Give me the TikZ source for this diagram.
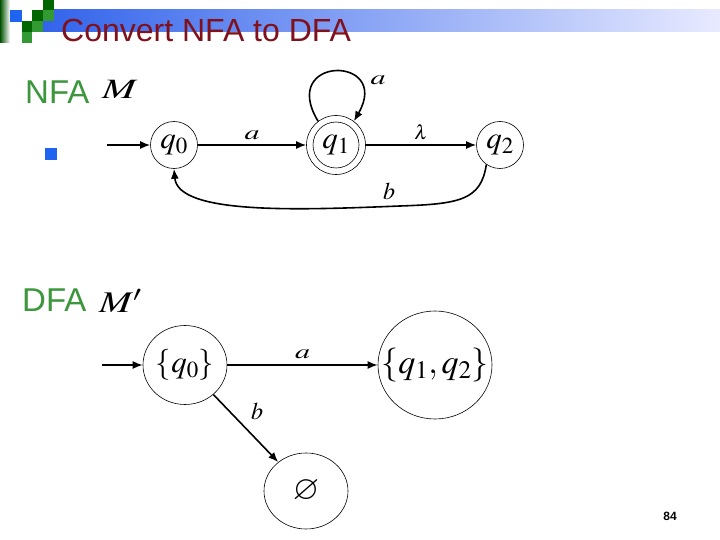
\documentclass[tikz,border=0pt]{standalone}
\usepackage{mathptmx}
\usepackage{amssymb}
\usepackage{fontspec}
\setmainfont{Liberation Sans}
\usetikzlibrary{arrows.meta,shapes.geometric}
\definecolor{titlered}{RGB}{128,16,26}
\definecolor{lblgreen}{RGB}{60,150,60}
\definecolor{dkgreen}{RGB}{0,102,0}
\definecolor{mdgreen}{RGB}{51,153,51}
\definecolor{bulblue}{RGB}{30,100,240}
\definecolor{barblue}{RGB}{50,100,235}
\definecolor{barlight}{RGB}{232,234,255}
\newcommand{\wa}{\scalebox{1.5}[1]{$a$}}
\begin{document}
\begin{tikzpicture}[x=1pt,y=-1pt,
  edge/.style={line width=1.6pt,-{Latex[length=10pt,width=8pt]}},
  st/.style={circle,draw,line width=0.6pt,inner sep=0pt,minimum size=47pt,font=\fontsize{31}{36}\selectfont},
  dst/.style={ellipse,draw,line width=0.6pt,inner sep=0pt,font=\fontsize{31}{36}\selectfont},
  lbl/.style={inner sep=1pt,font=\fontsize{20}{24}\selectfont},
  side/.style={anchor=base west,text=lblgreen,font=\fontsize{33}{38}\selectfont},
  mname/.style={anchor=base west,font=\fontsize{28}{32}\selectfont},
]
\useasboundingbox (0,0) rectangle (720,540);
% header
\shade[left color=barblue,right color=barlight] (43,10) rectangle (720,32);
\shade[left color=dkgreen!80!black,right color=white] (0,0) rectangle (10,43);
\fill[bulblue] (10,10) rectangle (22,22);
\fill[dkgreen] (43,0) rectangle (54,10);
\fill[mdgreen] (43,10) rectangle (54,21);
\fill[dkgreen] (32,10) rectangle (43,21);
\fill[dkgreen] (22,21) rectangle (32,32);
\fill[mdgreen] (32,21) rectangle (43,32);
\fill[mdgreen] (22,32) rectangle (32,43);
\node[anchor=base west,inner sep=0pt,text=titlered,font=\fontsize{32}{36}\selectfont] (title) at (61,42) {Convert NFA to DFA};
% NFA
\node[side,inner sep=0pt] (nfa) at (25,104) {NFA};
\node[mname,inner sep=0pt] (m) at (102,99) {\scalebox{1.45}[1]{$M$}};
\fill[bulblue] (45,148) rectangle (57,160);
\node[st] (q0) at (174,145) {$q_0$};
\node[st,minimum size=59pt] (q1) at (336,145) {$q_1$};
\draw[line width=0.6pt] (q1.center) circle[radius=23pt];
\node[st] (q2) at (500,145) {$q_2$};
\coordinate (s0) at (107,145);
\draw[edge] (s0) -- (q0);
\draw[edge] (q0) -- node[lbl,above=3pt] {\wa} (q1);
\draw[edge] (q1) -- node[lbl,above=3pt] {$\lambda$} (q2);
\draw[edge] (q1.127) .. controls (278,55) and (392,55) .. (q1.53);
\node[lbl] (la) at (378,80) {\wa};
\draw[edge] (q2.235) .. controls (481,200) and (460,204) .. (400,206) .. controls (300,210) and (178,215) .. (q0.270);
\node[lbl,font=\fontsize{24}{28}\selectfont] (lb) at (389,191) {$b$};
% DFA
\node[side,inner sep=0pt] (dfa) at (22,311) {DFA};
\node[mname,inner sep=0pt,font=\fontsize{30}{34}\selectfont] (mp) at (99,312) {\scalebox{1.3}[1]{$M'$}};
\node[dst,minimum width=84pt,minimum height=79pt] (d0) at (185,365) {$\{q_0\}$};
\node[dst,minimum width=114pt,minimum height=108pt,label={[font=\fontsize{34}{40}\selectfont]center:$\{q_1,q_2\}$}] (d12) at (435,365) {};
\node[dst,minimum width=84pt,minimum height=76pt,label={[font=\fontsize{34}{40}\selectfont]center:$\varnothing$}] (de) at (306,491) {};
\coordinate (s1) at (102,365);
\draw[edge] (s1) -- (d0);
\draw[edge] (d0) -- node[lbl,above=4pt] {\wa} (d12);
\draw[edge] (d0) -- (de);
\node[lbl,font=\fontsize{24}{28}\selectfont] (lb2) at (257,411) {$b$};
\node[font=\bfseries\fontsize{12}{14}\selectfont] (pg) at (670,516) {84};
\end{tikzpicture}
\end{document}
